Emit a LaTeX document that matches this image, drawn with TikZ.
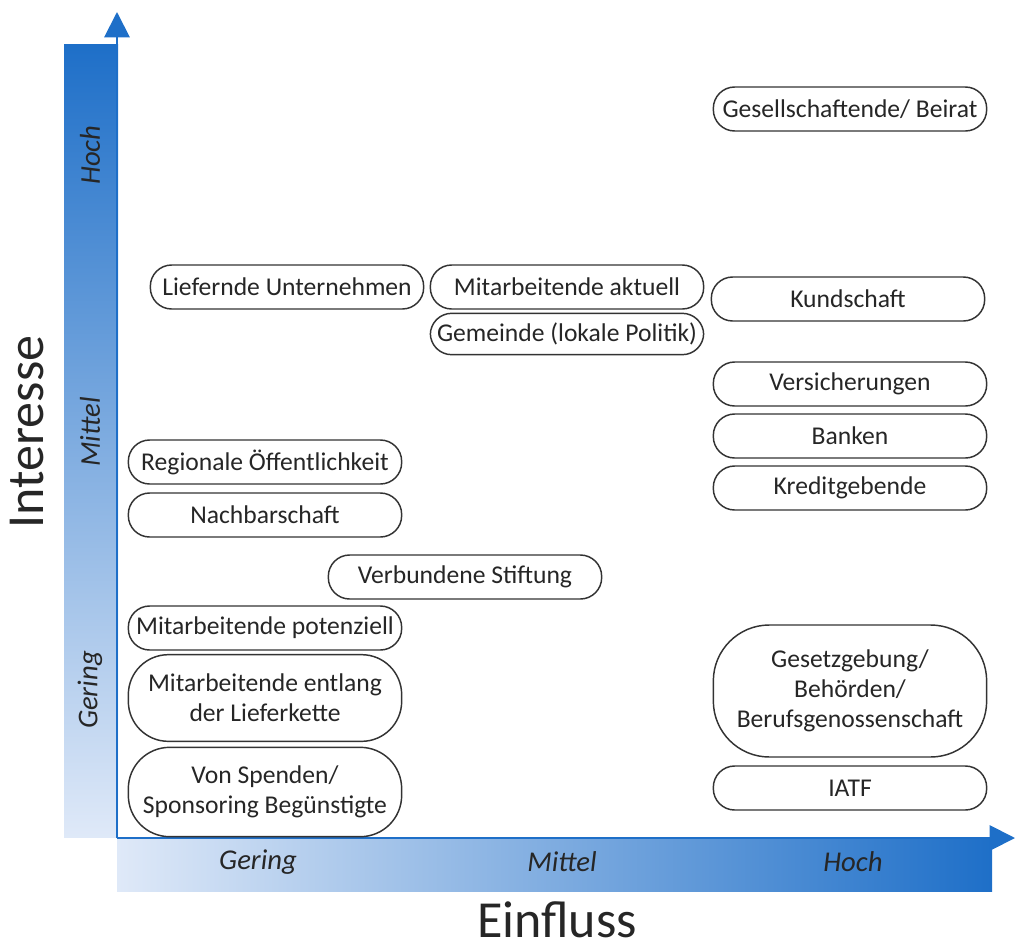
\documentclass[tikz,border=0pt]{standalone}
\usepackage{fontspec}
\setmainfont{Carlito}
\usetikzlibrary{arrows.meta}

\definecolor{axisblue}{RGB}{30,111,200}
\definecolor{axislight}{RGB}{223,233,248}
\definecolor{textgray}{RGB}{38,38,38}

\tikzset{
  stakeholder/.style={draw=black!80, line width=1.1pt, fill=white, text=textgray,
    rounded corners=16pt, minimum width=205pt, minimum height=33pt, inner sep=0pt,
    align=center, font=\fontsize{19.2}{22.5}\selectfont},
  level/.style={text=textgray, font=\fontsize{21.5}{24}\selectfont\itshape},
  axistitle/.style={text=textgray, font=\fontsize{39}{44}\selectfont}
}

\begin{document}
\begin{tikzpicture}[x=0.75pt,y=-0.75pt]
    \useasboundingbox (0,0) rectangle (1015,950);

    % Define coordinates for the axes
    \coordinate (Origin) at (117,838);
    \coordinate (YTip) at (117,12);
    \coordinate (XTip) at (1015,838);

    % Gradient bars
    \shade[top color=axisblue, bottom color=axislight] (64,44) rectangle (118,837);
    \shade[left color=axislight, right color=axisblue] (117,839) rectangle (992,891);

    % Axis arrows
    \draw[axisblue, line width=1.5pt, -{Triangle[width=19pt,length=19pt]}] (Origin) -- (YTip);
    \draw[axisblue, line width=1.5pt, -{Triangle[width=19pt,length=19pt]}] (Origin) -- (XTip);

    % Axis titles
    \node[axistitle, rotate=90] (Interesse) at (27,432) {Interesse};
    \node[axistitle] (Einfluss) at (557,920) {Einfluss};

    % Levels on both axes
    \node[level, rotate=90] (yHoch) at (90,155) {Hoch};
    \node[level, rotate=90] (yMittel) at (90,432) {Mittel};
    \node[level, rotate=90] (yGering) at (90,690) {Gering};
    \node[level] (xGering) at (258,862) {Gering};
    \node[level] (xMittel) at (562,862) {Mittel};
    \node[level] (xHoch) at (853,862) {Hoch};

    % Stakeholders with low influence
    \node[stakeholder] (Liefernde) at (287,287) {Liefernde Unternehmen};
    \node[stakeholder] (Regional) at (265,462) {Regionale Öffentlichkeit};
    \node[stakeholder] (Nachbarn) at (265,515) {Nachbarschaft};
    \node[stakeholder] (MaPotenziell) at (265,628) {Mitarbeitende potenziell};
    \node[stakeholder, minimum height=65pt, rounded corners=30pt] (MaLieferkette) at (265,698)
        {Mitarbeitende entlang\\der Lieferkette};
    \node[stakeholder, minimum height=67pt, rounded corners=31pt] (Spenden) at (265,792)
        {Von Spenden/\\Sponsoring Begünstigte};

    % Stakeholders with medium influence
    \node[stakeholder] (MaAktuell) at (567,287) {Mitarbeitende aktuell};
    \node[stakeholder, minimum height=31pt] (Gemeinde) at (567,334) {Gemeinde (lokale Politik)};
    \node[stakeholder] (Stiftung) at (465,577) {Verbundene Stiftung};

    % Stakeholders with high influence
    \node[stakeholder] (Beirat) at (850,109) {Gesellschaftende/ Beirat};
    \node[stakeholder] (Kunden) at (848,299) {Kundschaft};
    \node[stakeholder] (Versicherungen) at (850,384) {Versicherungen};
    \node[stakeholder] (Banken) at (850,436) {Banken};
    \node[stakeholder] (Kredit) at (850,488) {Kreditgebende};
    \node[stakeholder, minimum height=99pt, rounded corners=42pt] (Gesetz) at (850,691)
        {Gesetzgebung/\\Behörden/\\Berufsgenossenschaft};
    \node[stakeholder] (IATF) at (850,788) {IATF};

\end{tikzpicture}
\end{document}
